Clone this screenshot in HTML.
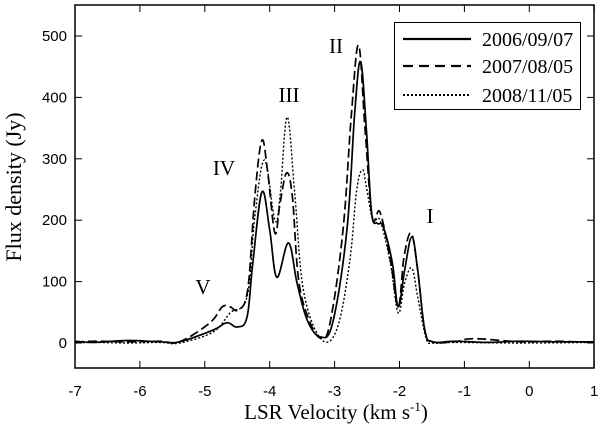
<!DOCTYPE html>
<html><head><meta charset="utf-8"><style>
html,body{margin:0;padding:0;background:#fff;}
svg{display:block;}
.tk{font-family:"Liberation Sans",sans-serif;font-size:15px;fill:#000;}
.sf{font-family:"Liberation Serif",serif;fill:#000;}
</style></head><body>
<svg id="chart" width="600" height="431" viewBox="0 0 600 431">
<g id="plot"></g>
</svg>
<script>
const xTicks=[-7,-6,-5,-4,-3,-2,-1,0,1];
const yTicks=[0,100,200,300,400,500];
const s1v=[-7,-6.70,-6.19,-5.69,-5.39,-4.87,-4.66,-4.50,-4.35,-4.26,-4.12,-4.00,-3.89,-3.71,-3.58,-3.42,-3.22,-3.03,-2.81,-2.69,-2.60,-2.51,-2.43,-2.34,-2.25,-2.11,-2.02,-1.92,-1.81,-1.72,-1.61,-1.49,-1.15,-0.65,-0.15,0.36,1];
const s1f=[3,1,4,2,2,21,33,26,42,130,246,184,107,163,98,37,10,33,184,375,458,347,212,195,189,130,59,119,173,119,21,2,3,1,3,2,2];
const s2v=[-7,-6.70,-6.19,-5.69,-5.39,-4.92,-4.73,-4.61,-4.49,-4.34,-4.23,-4.12,-4.03,-3.92,-3.84,-3.74,-3.65,-3.56,-3.41,-3.22,-3.07,-2.87,-2.74,-2.63,-2.53,-2.42,-2.30,-2.14,-2.02,-1.93,-1.82,-1.72,-1.61,-1.49,-1.15,-0.85,-0.15,0.36,1];
const s2f=[1,3,2,3,2,33,59,59,54,86,238,330,277,179,228,277,238,107,42,8,33,184,375,485,347,205,213,135,59,140,179,119,21,2,2,7,2,3,1];
const s3v=[-7,-6.70,-6.19,-5.69,-5.39,-4.87,-4.61,-4.35,-4.23,-4.08,-3.92,-3.84,-3.73,-3.61,-3.48,-3.22,-2.97,-2.77,-2.66,-2.57,-2.51,-2.41,-2.30,-2.14,-2.02,-1.92,-1.81,-1.72,-1.59,-1.49,-1.15,-0.15,1];
const s3f=[0,1,0,1,0,18,49,75,205,298,200,240,368,238,86,8,21,130,249,282,254,200,200,130,49,98,122,75,8,0,1,0,1];
const x0=75,x1=594,yT=5,yB=368;
const X=v=>75+(v+7)*64.9;
const Y=f=>343-f*0.614;
const g=document.getElementById('plot');
const NS='http://www.w3.org/2000/svg';
function mk(t,a,p){const e=document.createElementNS(NS,t);for(const k in a)e.setAttribute(k,a[k]);(p||g).appendChild(e);return e;}
const fr=mk('rect',{x:x0,y:yT,width:x1-x0,height:yB-yT,fill:'none',stroke:'#000','stroke-width':1.5});


xTicks.forEach(v=>{
 const x=X(v);
 mk('line',{x1:x,x2:x,y1:yB,y2:yB-7,stroke:'#000'});
 mk('line',{x1:x,x2:x,y1:yT,y2:yT+7,stroke:'#000'});
 const t=mk('text',{x:x,y:396,'text-anchor':'middle',class:'tk'});t.textContent=v;
 
 
});
yTicks.forEach(f=>{
 const y=Y(f);
 mk('line',{x1:x0,x2:x0+7,y1:y,y2:y,stroke:'#000'});
 mk('line',{x1:x1,x2:x1-7,y1:y,y2:y,stroke:'#000'});
 const t=mk('text',{x:67,y:y+5,'text-anchor':'end',class:'tk'});t.textContent=f;
 
 
});
function smoothPath(pts){
 let d='M'+pts[0][0].toFixed(1)+','+pts[0][1].toFixed(1);
 for(let i=0;i<pts.length-1;i++){
  const p0=pts[i-1]||pts[i],p1=pts[i],p2=pts[i+1],p3=pts[i+2]||p2;
  const t=0.18;
  const c1=[p1[0]+(p2[0]-p0[0])*t,p1[1]+(p2[1]-p0[1])*t];
  const c2=[p2[0]-(p3[0]-p1[0])*t,p2[1]-(p3[1]-p1[1])*t];
  d+='C'+c1[0].toFixed(1)+','+c1[1].toFixed(1)+' '+c2[0].toFixed(1)+','+c2[1].toFixed(1)+' '+p2[0].toFixed(1)+','+p2[1].toFixed(1);
 }
 return d;
}
function series(vs,fs,dash,name){
 const pts=vs.map((v,i)=>[X(v),Y(fs[i])]);
 const p=mk('path',{d:smoothPath(pts),fill:'none',stroke:'#000','stroke-width':dash==='dot'?1.4:1.7,'stroke-dasharray':dash==='dash'?'9,4':dash==='dot'?'2,2':'none','stroke-linejoin':'round'});
 
 
}
series(s3v,s3f,'dot','series-2008-11-05');
series(s2v,s2f,'dash','series-2007-08-05');
series(s1v,s1f,'solid','series-2006-09-07');
</script>
<svg style="position:absolute;left:0;top:0" width="600" height="431">
<g>
<rect x="394.5" y="22.5" width="186" height="87" fill="#fff" stroke="#000"/>
<line x1="403" y1="39" x2="471" y2="39" stroke="#000" stroke-width="2.2"/>
<line x1="403" y1="66" x2="471" y2="66" stroke="#000" stroke-width="2.2" stroke-dasharray="10,6"/>
<line x1="403" y1="95" x2="471" y2="95" stroke="#000" stroke-width="2" stroke-dasharray="2,2"/>
<text class="sf" x="482" y="46" font-size="20">2006/09/07</text>
<text class="sf" x="482" y="73" font-size="20">2007/08/05</text>
<text class="sf" x="482" y="102" font-size="20">2008/11/05</text>
</g>
<text class="sf" font-size="21" x="203" y="294" text-anchor="middle">V</text>
<text class="sf" font-size="21" x="224" y="175" text-anchor="middle">IV</text>
<text class="sf" font-size="21" x="289" y="102" text-anchor="middle">III</text>
<text class="sf" font-size="21" x="336" y="53" text-anchor="middle">II</text>
<text class="sf" font-size="21" x="430" y="223" text-anchor="middle">I</text>
<text class="sf" font-size="21" x="336" y="419" text-anchor="middle">LSR Velocity (km s<tspan font-size="13" dy="-8">-1</tspan><tspan dy="8">)</tspan></text>
<text class="sf" font-size="22" transform="translate(21,187) rotate(-90)" text-anchor="middle">Flux density (Jy)</text>
</svg>
</body></html>
